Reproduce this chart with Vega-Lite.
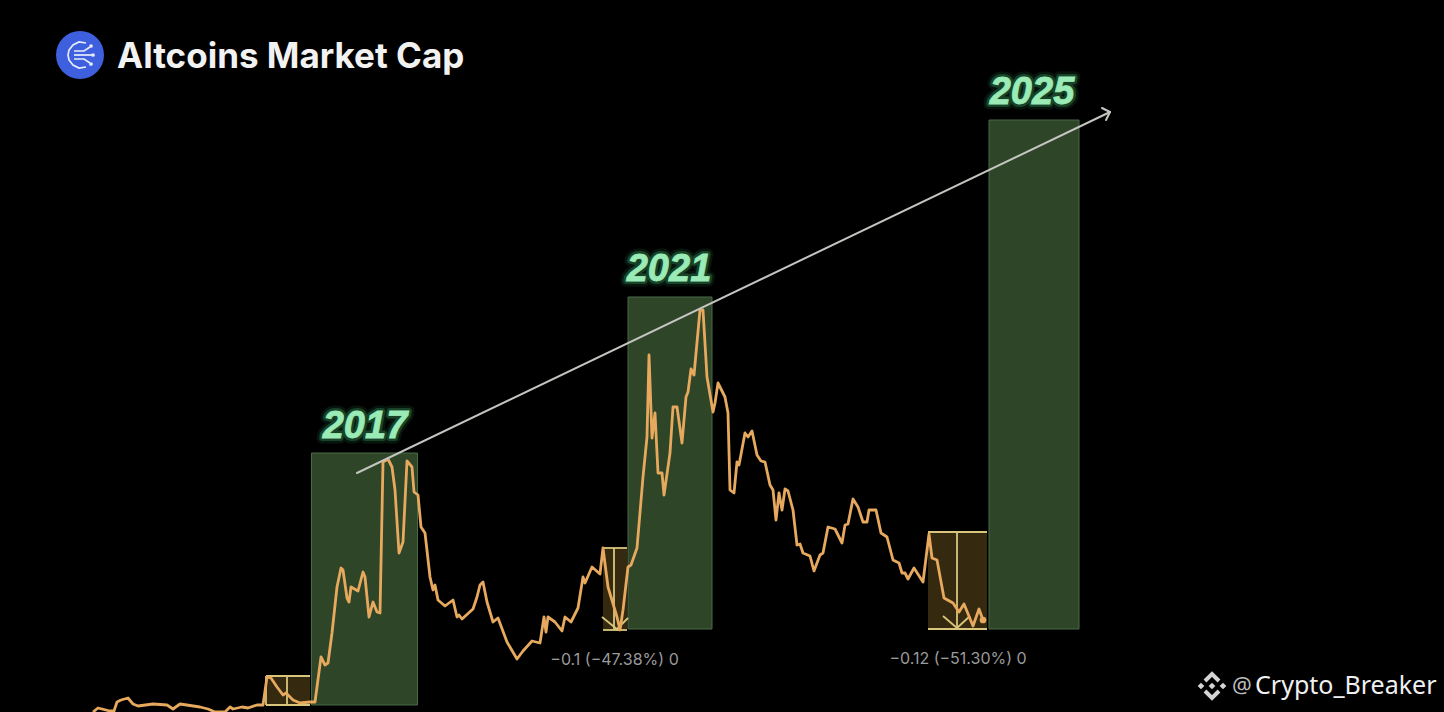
{
  "$schema": "https://vega.github.io/schema/vega-lite/v6.json",
  "description": "Altcoins market cap line with green cycle boxes for 2017, 2021 and 2025 and a rising trend arrow.",
  "width": 1444,
  "height": 712,
  "autosize": {"type": "none"},
  "padding": 0,
  "background": "#000000",
  "view": {"stroke": null},
  "datasets": {
    "cap": [
      {"x":93,"y":0},{"x":98,"y":4},{"x":110,"y":1},{"x":114,"y":1},{"x":117,"y":10},{"x":121,"y":12},{"x":128,"y":14},{"x":133,"y":8},{"x":138,"y":6},{"x":153,"y":8},{"x":167,"y":7},{"x":173,"y":3},{"x":180,"y":8},{"x":200,"y":5},{"x":208,"y":3},{"x":215,"y":0},{"x":225,"y":0},{"x":230,"y":5},{"x":233,"y":3},{"x":242,"y":5},{"x":248,"y":4},{"x":257,"y":7},{"x":263,"y":7},{"x":267,"y":35},{"x":271,"y":34},{"x":277,"y":25},{"x":283,"y":17},{"x":286,"y":19},{"x":293,"y":12},{"x":300,"y":9},{"x":310,"y":10},{"x":315,"y":10},{"x":317,"y":25},{"x":321,"y":55},{"x":325,"y":47},{"x":328,"y":49},{"x":332,"y":79},{"x":337,"y":125},{"x":341,"y":144},{"x":343,"y":142},{"x":347,"y":114},{"x":349,"y":110},{"x":351,"y":125},{"x":358,"y":121},{"x":363,"y":140},{"x":365,"y":135},{"x":369,"y":95},{"x":373,"y":110},{"x":377,"y":100},{"x":380,"y":99},{"x":383,"y":250},{"x":388,"y":253},{"x":392,"y":245},{"x":395,"y":222},{"x":399,"y":159},{"x":403,"y":170},{"x":407,"y":251},{"x":412,"y":245},{"x":414,"y":220},{"x":418,"y":217},{"x":421,"y":185},{"x":425,"y":179},{"x":430,"y":135},{"x":433,"y":122},{"x":435,"y":127},{"x":438,"y":112},{"x":445,"y":106},{"x":453,"y":112},{"x":457,"y":95},{"x":459,"y":97},{"x":462,"y":93},{"x":473,"y":103},{"x":477,"y":115},{"x":480,"y":127},{"x":483,"y":130},{"x":487,"y":110},{"x":493,"y":90},{"x":498,"y":94},{"x":507,"y":70},{"x":517,"y":53},{"x":523,"y":61},{"x":532,"y":71},{"x":540,"y":69},{"x":544,"y":95},{"x":546,"y":80},{"x":548,"y":95},{"x":555,"y":90},{"x":562,"y":81},{"x":565,"y":95},{"x":571,"y":90},{"x":578,"y":104},{"x":583,"y":135},{"x":585,"y":129},{"x":592,"y":145},{"x":600,"y":138},{"x":603,"y":164},{"x":608,"y":125},{"x":617,"y":95},{"x":620,"y":82},{"x":623,"y":102},{"x":628,"y":145},{"x":631,"y":147},{"x":637,"y":164},{"x":643,"y":235},{"x":647,"y":275},{"x":649,"y":357},{"x":652,"y":274},{"x":655,"y":299},{"x":658,"y":239},{"x":662,"y":239},{"x":664,"y":217},{"x":670,"y":259},{"x":673,"y":305},{"x":677,"y":305},{"x":682,"y":269},{"x":686,"y":315},{"x":688,"y":320},{"x":691,"y":343},{"x":694,"y":337},{"x":700,"y":402},{"x":703,"y":402},{"x":707,"y":335},{"x":713,"y":300},{"x":715,"y":309},{"x":718,"y":329},{"x":725,"y":315},{"x":728,"y":299},{"x":730,"y":222},{"x":734,"y":219},{"x":737,"y":250},{"x":739,"y":247},{"x":745,"y":279},{"x":748,"y":275},{"x":752,"y":281},{"x":757,"y":257},{"x":761,"y":251},{"x":765,"y":250},{"x":770,"y":227},{"x":773,"y":222},{"x":776,"y":192},{"x":779,"y":219},{"x":782,"y":202},{"x":785,"y":223},{"x":788,"y":221},{"x":793,"y":202},{"x":797,"y":167},{"x":800,"y":168},{"x":803,"y":159},{"x":810,"y":156},{"x":814,"y":141},{"x":820,"y":157},{"x":823,"y":159},{"x":828,"y":185},{"x":835,"y":183},{"x":842,"y":169},{"x":845,"y":187},{"x":848,"y":188},{"x":853,"y":213},{"x":858,"y":205},{"x":863,"y":190},{"x":867,"y":190},{"x":869,"y":202},{"x":876,"y":202},{"x":881,"y":179},{"x":887,"y":175},{"x":893,"y":152},{"x":899,"y":149},{"x":902,"y":139},{"x":905,"y":139},{"x":908,"y":133},{"x":914,"y":144},{"x":923,"y":130},{"x":929,"y":178},{"x":932,"y":154},{"x":937,"y":152},{"x":944,"y":114},{"x":953,"y":109},{"x":959,"y":100},{"x":964,"y":108},{"x":973,"y":86},{"x":979,"y":103},{"x":983,"y":92}
    ],
    "cycles": [
      {"x":311.5,"x2":417.5,"y":7,"y2":259,"label":"2017"},
      {"x":628,"x2":712,"y":83,"y2":415,"label":"2021"},
      {"x":989,"x2":1079,"y":83,"y2":592,"label":"2025"}
    ],
    "labels": [
      {"x":365,"y":285,"label":"2017"},
      {"x":669,"y":442,"label":"2021"},
      {"x":1032,"y":619,"label":"2025"}
    ],
    "drops": [
      {"x":266,"x2":310,"y":7,"y2":36},
      {"x":603,"x2":627,"y":82,"y2":164},
      {"x":928,"x2":987,"y":83,"y2":180}
    ],
    "dropLines": [
      {"x":266,"x2":310,"y":36,"y2":36},{"x":266,"x2":310,"y":7,"y2":7},{"x":287,"x2":287,"y":7,"y2":36},{"x":266,"x2":266,"y":7,"y2":36},
      {"x":603,"x2":627,"y":164,"y2":164},{"x":603,"x2":627,"y":82,"y2":82},{"x":614,"x2":614,"y":82,"y2":164},{"x":602,"x2":618,"y":95,"y2":82},{"x":628,"x2":616,"y":94,"y2":82},
      {"x":928,"x2":987,"y":180,"y2":180},{"x":928,"x2":987,"y":83,"y2":83},{"x":957,"x2":957,"y":83,"y2":180},{"x":943,"x2":957,"y":96,"y2":84},{"x":970,"x2":957,"y":96,"y2":84}
    ],
    "trend": [
      {"x":357,"x2":1110,"y":239,"y2":600},
      {"x":1102,"x2":1110,"y":604,"y2":600},
      {"x":1106,"x2":1110,"y":592,"y2":600}
    ],
    "notes": [
      {"x":614.5,"y":52,"label":"−0.1 (−47.38%) 0"},
      {"x":958,"y":53,"label":"−0.12 (−51.30%) 0"}
    ],
    "logoLines": [
      {"id":"arc","i":1,"x":86,"y":669},{"id":"arc","i":2,"x":79,"y":670},{"id":"arc","i":3,"x":73,"y":667},{"id":"arc","i":4,"x":69,"y":662},{"id":"arc","i":5,"x":68,"y":657},{"id":"arc","i":6,"x":69,"y":652},{"id":"arc","i":7,"x":73,"y":647},{"id":"arc","i":8,"x":79,"y":644},{"id":"arc","i":9,"x":86,"y":645},
      {"id":"a","i":1,"x":74,"y":661},{"id":"a","i":2,"x":84,"y":661},{"id":"a","i":3,"x":90,"y":665},
      {"id":"b","i":1,"x":74,"y":657},{"id":"b","i":2,"x":92,"y":657},
      {"id":"c","i":1,"x":74,"y":653},{"id":"c","i":2,"x":84,"y":653},{"id":"c","i":3,"x":90,"y":649}
    ],
    "logoDots": [{"x":91,"y":666},{"x":93,"y":657},{"x":91,"y":648}],
    "markLines": [
      {"id":"top","x":1205,"y":31},{"id":"top","x":1212,"y":38},{"id":"top","x":1219,"y":31},
      {"id":"bottom","x":1205,"y":21},{"id":"bottom","x":1212,"y":14},{"id":"bottom","x":1219,"y":21}
    ],
    "markDots": [{"x":1201,"y":26},{"x":1212,"y":26},{"x":1223,"y":26}]
  },
  "encoding": {
    "x": {"field": "x", "type": "quantitative", "scale": {"domain": [0, 1444], "nice": false, "zero": false}, "axis": null},
    "y": {"field": "y", "type": "quantitative", "scale": {"domain": [0, 712], "nice": false, "zero": false}, "axis": null}
  },
  "layer": [
    {
      "data": {"name": "cycles"},
      "mark": {"type": "rect", "fill": "#2e4527", "stroke": "#4b6b48", "strokeWidth": 1},
      "encoding": {"x2": {"field": "x2"}, "y2": {"field": "y2"}}
    },
    {
      "data": {"name": "drops"},
      "mark": {"type": "rect", "fill": "#352a10", "stroke": null},
      "encoding": {"x2": {"field": "x2"}, "y2": {"field": "y2"}}
    },
    {
      "data": {"name": "dropLines"},
      "mark": {"type": "rule", "color": "#d9c67c", "strokeWidth": 1.8},
      "encoding": {"x2": {"field": "x2"}, "y2": {"field": "y2"}}
    },
    {
      "data": {"name": "cap"},
      "mark": {"type": "line", "color": "#e6a95e", "strokeWidth": 2.8, "strokeJoin": "round", "interpolate": "linear"}
    },
    {
      "data": {"name": "cap"},
      "transform": [{"filter": "datum.x == 983"}],
      "mark": {"type": "point", "shape": "circle", "filled": true, "color": "#e6a95e", "size": 45, "opacity": 1}
    },
    {
      "data": {"name": "trend"},
      "mark": {"type": "rule", "color": "#c4c4c0", "strokeWidth": 2, "strokeCap": "round"},
      "encoding": {"x2": {"field": "x2"}, "y2": {"field": "y2"}}
    },
    {
      "data": {"name": "labels"},
      "mark": {"type": "text", "font": "Liberation Sans", "fontSize": 38, "fontWeight": "bold", "fontStyle": "italic", "align": "center", "baseline": "middle", "color": "#5fd08a", "stroke": "#3fae6a", "strokeWidth": 11, "strokeJoin": "round", "opacity": 0.12},
      "encoding": {"text": {"field": "label"}}
    },
    {
      "data": {"name": "labels"},
      "mark": {"type": "text", "font": "Liberation Sans", "fontSize": 38, "fontWeight": "bold", "fontStyle": "italic", "align": "center", "baseline": "middle", "color": "#5fd08a", "stroke": "#3fae6a", "strokeWidth": 6, "strokeJoin": "round", "opacity": 0.3},
      "encoding": {"text": {"field": "label"}}
    },
    {
      "data": {"name": "labels"},
      "mark": {"type": "text", "font": "Liberation Sans", "fontSize": 38, "fontWeight": "bold", "fontStyle": "italic", "align": "center", "baseline": "middle", "color": "#9aebb6", "stroke": "#9aebb6", "strokeWidth": 0.8},
      "encoding": {"text": {"field": "label"}}
    },
    {
      "data": {"name": "notes"},
      "mark": {"type": "text", "font": "Inter", "fontSize": 16, "align": "center", "baseline": "middle", "color": "#9a9a9a"},
      "encoding": {"text": {"field": "label"}}
    },
    {
      "data": {"values": [{"x": 80, "y": 657}]},
      "mark": {"type": "point", "shape": "circle", "filled": true, "color": "#3f60de", "size": 2304, "opacity": 1}
    },
    {
      "data": {"name": "logoLines"},
      "mark": {"type": "line", "color": "#e6ebff", "strokeWidth": 1.7},
      "encoding": {"detail": {"field": "id"}, "order": {"field": "i"}}
    },
    {
      "data": {"name": "logoDots"},
      "mark": {"type": "point", "shape": "circle", "filled": true, "color": "#e6ebff", "size": 14, "opacity": 1}
    },
    {
      "data": {"values": [{"x": 117, "y": 655, "label": "Altcoins Market Cap"}]},
      "mark": {"type": "text", "font": "Inter", "fontSize": 35, "fontWeight": 700, "align": "left", "baseline": "middle", "color": "#f2f2f2"},
      "encoding": {"text": {"field": "label"}}
    },
    {
      "data": {"name": "markLines"},
      "mark": {"type": "line", "color": "#d4d4d4", "strokeWidth": 4},
      "encoding": {"detail": {"field": "id"}}
    },
    {
      "data": {"name": "markDots"},
      "mark": {"type": "point", "shape": "diamond", "filled": true, "color": "#d4d4d4", "size": 45, "opacity": 1}
    },
    {
      "data": {"values": [{"x": 1232, "y": 26, "label": "@"}]},
      "mark": {"type": "text", "font": "Noto Sans", "fontSize": 22, "align": "left", "baseline": "middle", "color": "#bdbdbd"},
      "encoding": {"text": {"field": "label"}}
    },
    {
      "data": {"values": [{"x": 1255, "y": 26, "label": "Crypto_Breaker"}]},
      "mark": {"type": "text", "font": "Noto Sans", "fontSize": 25, "align": "left", "baseline": "middle", "color": "#f0f0f0"},
      "encoding": {"text": {"field": "label"}}
    }
  ]
}
